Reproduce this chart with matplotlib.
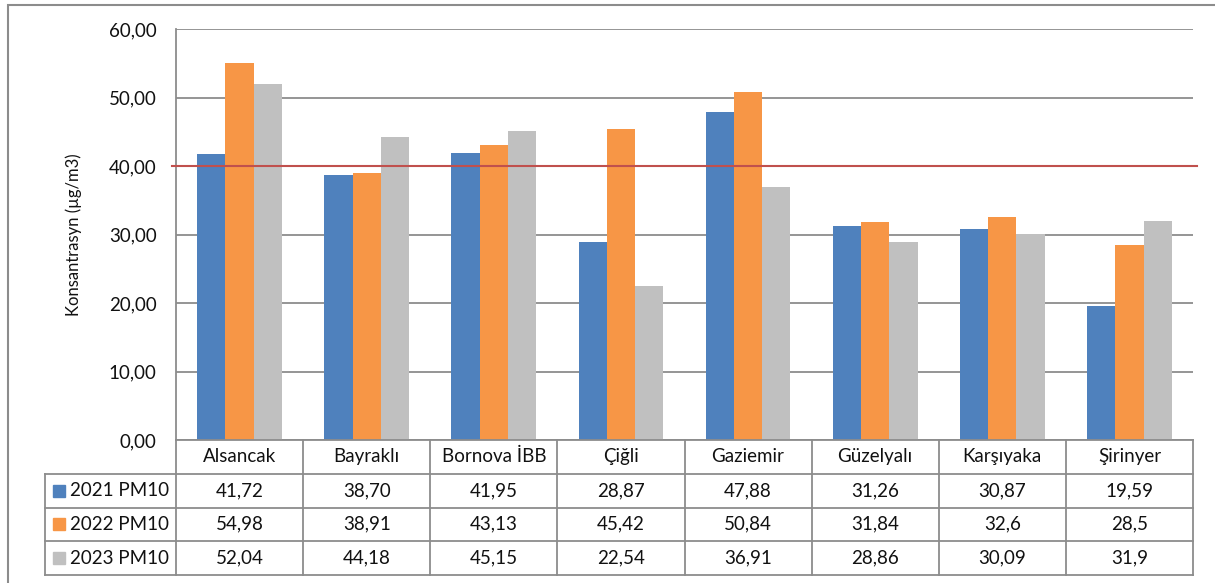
import numpy as np
import matplotlib.pyplot as plt
from matplotlib.patches import Rectangle

plt.rcParams['font.family'] = ['Lato', 'DejaVu Sans']

stations = ["Alsancak", "Bayraklı", "Bornova İBB", "Çiğli", "Gaziemir",
            "Güzelyalı", "Karşıyaka", "Şirinyer"]
series = ["2021 PM10", "2022 PM10", "2023 PM10"]
# values as they are written in the data table
pm10_2021 = ["41,72", "38,70", "41,95", "28,87", "47,88", "31,26", "30,87", "19,59"]
pm10_2022 = ["54,98", "38,91", "43,13", "45,42", "50,84", "31,84", "32,6", "28,5"]
pm10_2023 = ["52,04", "44,18", "45,15", "22,54", "36,91", "28,86", "30,09", "31,9"]
limit = 40
yticks = [0, 10, 20, 30, 40, 50, 60]

colors = ["#4F81BD", "#F79646", "#C0C0C0"]
line_c = "#8C8C8C"
text_c = "#111111"


def to_num(labels):
    return [float(s.replace(",", ".")) for s in labels]


def main():
    W, H = 1215, 583
    fig = plt.figure(figsize=(W / 100, H / 100), dpi=100)
    fig.patch.set_facecolor("white")

    ax = fig.add_axes([176 / W, 1 - 440 / H, 1017 / W, 411 / H])
    ax.set_xlim(-0.5, 7.5)
    ax.set_ylim(0, 60)

    x = np.arange(len(stations))
    w = 0.2225
    rows = [pm10_2021, pm10_2022, pm10_2023]
    for i, (vals, c) in enumerate(zip(rows, colors)):
        ax.bar(x + (i - 1) * w, to_num(vals), w, color=c, zorder=2)

    ax.axhline(limit, xmin=-0.004, xmax=1.004, color="#C0504D", lw=1.5,
               clip_on=False, zorder=3)

    ax.set_yticks(yticks)
    ax.set_yticklabels([f"{v:.2f}".replace(".", ",") for v in yticks])
    ax.set_xticks([])
    ax.tick_params(axis="y", length=0, pad=14, labelsize=13.5,
                   labelcolor=text_c)
    ax.yaxis.grid(True, color=line_c, lw=1.3)
    ax.set_axisbelow(True)
    for s in ["top", "right"]:
        ax.spines[s].set_visible(False)
    for s in ["left", "bottom"]:
        ax.spines[s].set_color(line_c)
        ax.spines[s].set_linewidth(1.3)
    ax.set_ylabel("Konsantrasyn (µg/m3)", fontsize=12, color=text_c)
    ax.yaxis.set_label_coords(-0.092, 0.5)

    # data table under the plot
    tab = fig.add_axes([176 / W, 1 - 575 / H, 1017 / W, 135 / H])
    tab.set_xlim(-0.5, 7.5)
    tab.set_ylim(4, 0)
    tab.axis("off")
    lw_col = 131 / (1017 / 8)
    left = -0.5 - lw_col
    for r in range(1, 5):
        tab.plot([left, 7.5], [r, r], color=line_c, lw=1.3, clip_on=False)
    tab.plot([left, left], [1, 4], color=line_c, lw=1.3, clip_on=False)
    for k in range(len(stations) + 1):
        tab.plot([k - 0.5, k - 0.5], [0, 4], color=line_c, lw=1.3,
                 clip_on=False)

    for k, name in enumerate(stations):
        tab.text(k, 0.5, name, ha="center", va="center", fontsize=13.5,
                 color=text_c)
    for r, (name, vals, c) in enumerate(zip(series, rows, colors), start=1):
        tab.plot(left + 0.11, r + 0.5, marker="s", ms=8.5, color=c,
                 clip_on=False)
        tab.text(left + 0.2, r + 0.5, name, ha="left", va="center",
                 fontsize=13.5, color=text_c)
        for k, v in enumerate(vals):
            tab.text(k, r + 0.5, v, ha="center", va="center", fontsize=13.5,
                     color=text_c)

    fig.add_artist(Rectangle((8 / W, -0.1), 1.2, 1.1 - 5 / H,
                             transform=fig.transFigure, fill=False,
                             ec=line_c, lw=1.5))

    fig.savefig("out.png", dpi=100)


if __name__ == "__main__":
    main()
